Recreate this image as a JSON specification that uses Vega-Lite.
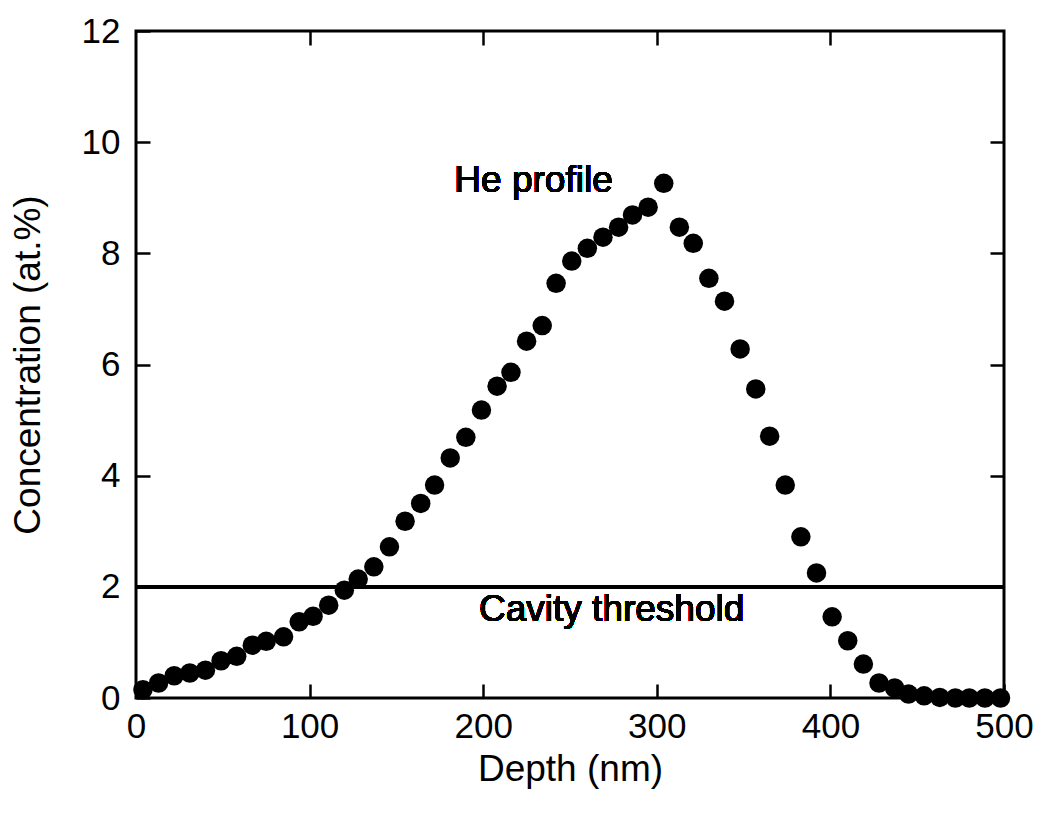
{
  "$schema": "https://vega.github.io/schema/vega-lite/v6.json",
  "width": 868,
  "height": 667,
  "autosize": "none",
  "padding": {"left": 136, "top": 31, "right": 37, "bottom": 115},
  "background": "white",
  "config": {
    "view": {"stroke": "black", "strokeWidth": 3},
    "font": "Liberation Sans",
    "axis": {"grid": false, "domain": false, "tickColor": "black", "tickWidth": 2.5, "tickSize": -14,
             "labelColor": "black", "titleColor": "black", "labelFont": "Liberation Sans", "titleFont": "Liberation Sans",
             "labelFontSize": 35, "titleFontSize": 37, "titleFontWeight": "normal"}
  },
  "data": {"values": [
    {"depth": 4, "conc": 0.15}, {"depth": 13, "conc": 0.27}, {"depth": 22, "conc": 0.4}, {"depth": 31, "conc": 0.45},
    {"depth": 40, "conc": 0.5}, {"depth": 49, "conc": 0.67}, {"depth": 58, "conc": 0.75}, {"depth": 67, "conc": 0.95},
    {"depth": 75, "conc": 1.02}, {"depth": 85, "conc": 1.1}, {"depth": 94, "conc": 1.37}, {"depth": 102, "conc": 1.47},
    {"depth": 111, "conc": 1.67}, {"depth": 120, "conc": 1.94}, {"depth": 128, "conc": 2.14}, {"depth": 137, "conc": 2.36},
    {"depth": 146, "conc": 2.72}, {"depth": 155, "conc": 3.18}, {"depth": 164, "conc": 3.5}, {"depth": 172, "conc": 3.83},
    {"depth": 181, "conc": 4.32}, {"depth": 190, "conc": 4.69}, {"depth": 199, "conc": 5.18}, {"depth": 208, "conc": 5.61},
    {"depth": 216, "conc": 5.86}, {"depth": 225, "conc": 6.42}, {"depth": 234, "conc": 6.7}, {"depth": 242, "conc": 7.46},
    {"depth": 251, "conc": 7.86}, {"depth": 260, "conc": 8.09}, {"depth": 269, "conc": 8.29}, {"depth": 278, "conc": 8.47},
    {"depth": 286, "conc": 8.69}, {"depth": 295, "conc": 8.83}, {"depth": 304, "conc": 9.26}, {"depth": 313, "conc": 8.47},
    {"depth": 321, "conc": 8.18}, {"depth": 330, "conc": 7.55}, {"depth": 339, "conc": 7.14}, {"depth": 348, "conc": 6.28},
    {"depth": 357, "conc": 5.56}, {"depth": 365, "conc": 4.71}, {"depth": 374, "conc": 3.83}, {"depth": 383, "conc": 2.9},
    {"depth": 392, "conc": 2.25}, {"depth": 401, "conc": 1.46}, {"depth": 410, "conc": 1.03}, {"depth": 419, "conc": 0.61},
    {"depth": 428, "conc": 0.27}, {"depth": 437, "conc": 0.18}, {"depth": 445, "conc": 0.07}, {"depth": 454, "conc": 0.04},
    {"depth": 463, "conc": 0.01}, {"depth": 472, "conc": 0.0}, {"depth": 480, "conc": 0.0}, {"depth": 489, "conc": 0.0},
    {"depth": 498, "conc": 0.0}
  ]},
  "resolve": {"axis": {"x": "independent", "y": "independent"}},
  "layer": [
    {
      "mark": {"type": "circle", "size": 380, "color": "black", "opacity": 1, "clip": false},
      "encoding": {
        "x": {"field": "depth", "type": "quantitative", "scale": {"domain": [0, 500], "nice": false, "zero": false},
              "axis": {"orient": "bottom", "title": "Depth (nm)", "values": [0, 100, 200, 300, 400, 500], "labelPadding": 25, "titlePadding": 7, "labelFlush": false}},
        "y": {"field": "conc", "type": "quantitative", "scale": {"domain": [0, 12], "nice": false},
              "axis": {"orient": "left", "title": "Concentration (at.%)", "values": [0, 2, 4, 6, 8, 10, 12], "labelPadding": 30, "titlePadding": 34, "labelFlush": false}}
      }
    },
    {
      "mark": {"type": "rule", "color": "black", "strokeWidth": 3},
      "encoding": {
        "y": {"datum": 2, "type": "quantitative", "axis": {"orient": "right", "title": null, "labels": false, "values": [2, 4, 6, 8, 10]}},
        "x": {"datum": 0, "type": "quantitative", "axis": {"orient": "top", "title": null, "labels": false, "values": [100, 200, 300, 400]}},
        "x2": {"datum": 500}
      }
    },
    {
      "mark": {"type": "text", "text": "Cavity threshold", "fontSize": 37, "font": "Liberation Sans", "color": "black", "align": "center", "baseline": "alphabetic"},
      "encoding": {"x": {"datum": 274, "axis": null}, "y": {"datum": 1.38, "axis": null}}
    },
    {
      "mark": {"type": "text", "text": "He profile", "fontSize": 37, "font": "Liberation Sans", "color": "black", "align": "center", "baseline": "alphabetic"},
      "encoding": {"x": {"datum": 229, "axis": null}, "y": {"datum": 9.1, "axis": null}}
    }
  ]
}
